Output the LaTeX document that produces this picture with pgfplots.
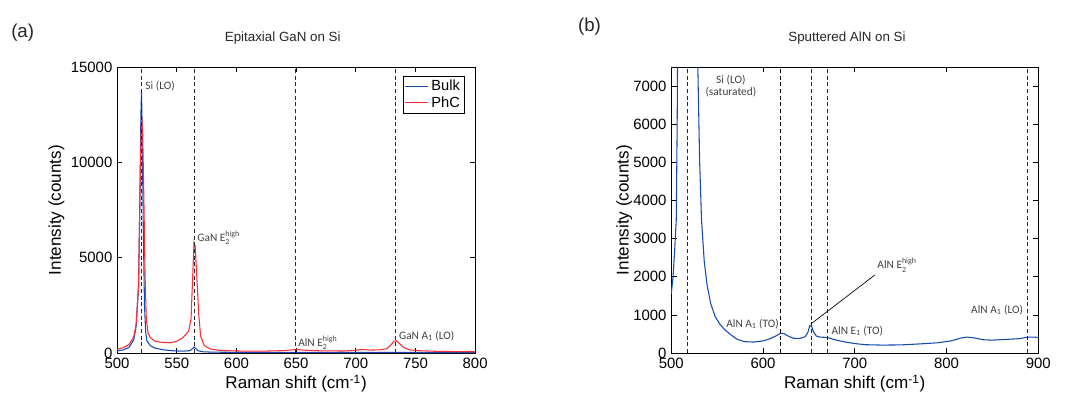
\documentclass[border=0pt]{standalone}
\usepackage{pgfplots}
\pgfplotsset{compat=1.18}
\usepackage{amsmath}
\usepackage{fontspec}
\setmainfont{Liberation Sans}
\newfontfamily\ann{Carlito}
\definecolor{bulkblue}{RGB}{20,75,175}
\definecolor{phcred}{RGB}{250,45,55}
\definecolor{vline}{RGB}{40,40,40}

\pgfplotsset{
  ramanstyle/.style={
    scale only axis,
    anchor=south west,
    height=214.5pt,
    axis line style={black, line width=0.6pt},
    tick style={black, line width=0.5pt},
    major tick length=4pt,
    minor tick num=0,
    scaled ticks=false,
    /pgf/number format/assume math mode=true,
    /pgf/number format/1000 sep={},
    tick label style={font=\fontsize{11.2}{12}\selectfont},
    label style={font=\fontsize{12.8}{14}\selectfont},
    xlabel={Raman shift (cm\textsuperscript{-1})},
    ylabel={Intensity (counts)},
    clip=true,
  },
  vl/.style={vline, densely dashed, line width=0.6pt, forget plot},
}
\tikzset{lab/.style={font=\ann\fontsize{8.5}{9.5}\selectfont, text=black!75, inner sep=1pt}}

\begin{document}
\begin{tikzpicture}
\path[use as bounding box] (0,0) rectangle (800pt,302.25pt);

% ---------- (a) ----------
\begin{axis}[ramanstyle,
  at={(87.75pt,37.5pt)},
  width=268.5pt,
  xmin=500, xmax=800, ymin=0, ymax=15000,
  xtick={500,550,...,800},
  ytick={0,5000,10000,15000},
  xlabel style={yshift=2pt},
  ylabel style={yshift=-2pt},
  legend style={at={(0.97,0.97)}, anchor=north east, font=\fontsize{11}{12}\selectfont,
    draw=black, line width=0.6pt, inner sep=1pt, row sep=-1pt},
  legend cell align=left,
]
\addplot[bulkblue, line width=0.8pt] coordinates {
(500,120) (505,160) (510,300) (514,700) (516,1400) (518,3500) (519,7500) (520,12500) (520.5,13700)
(521,12000) (522,6500) (523,2500) (524,1100) (525,650) (528,380) (532,260) (538,180) (545,130)
(555,100) (561,130) (563,220) (564.5,320) (566,230) (568,120) (572,70) (580,50) (600,40)
(650,40) (700,30) (734,40) (760,30) (800,25)
};
\addplot[phcred, line width=0.8pt] coordinates {
(500,200) (505,280) (510,450) (514,850) (516,1500) (518,3500) (519,7500) (520,11000) (520.7,12400)
(521.5,11500) (522.5,8000) (523.5,4000) (524.5,1800) (526,1050) (528,800) (532,620) (538,560)
(545,540) (550,620) (555,800) (560,1150) (562,1800) (563.5,4200) (564.5,5800) (565.5,5600)
(567,3800) (568.5,2000) (570,900) (573,400) (578,220) (585,150) (600,110) (620,100) (640,130)
(650,190) (658,150) (670,120) (690,110) (700,150) (705,190) (712,160) (720,170) (726,230)
(729,400) (732,620) (734,650) (737,480) (740,300) (745,170) (755,120) (770,90) (800,70)
};
\legend{Bulk, PhC}
\addplot[vl] coordinates {(520.6,0) (520.6,15000)};
\addplot[vl] coordinates {(564.5,0) (564.5,15000)};
\addplot[vl] coordinates {(649.5,0) (649.5,15000)};
\addplot[vl] coordinates {(733.6,0) (733.6,15000)};
\node[anchor=west, lab] at (axis cs:522.5,14000) {Si (LO)};
\node[anchor=west, lab] at (axis cs:566,6050) {GaN E$_{\text{2}}^{\text{high}}$};
\node[anchor=west, lab] at (axis cs:650.5,550) {AlN E$_{\text{2}}^{\text{high}}$};
\node[anchor=west, lab] at (axis cs:735,900) {GaN A$_{\text{1}}$ (LO)};
\end{axis}

% ---------- (b) ----------
\begin{axis}[ramanstyle,
  at={(503.25pt,37.5pt)},
  width=275.25pt,
  xmin=500, xmax=900, ymin=0, ymax=7500,
  xtick={500,600,...,900},
  ytick={0,1000,...,7000},
  xlabel style={yshift=2pt},
  ylabel style={yshift=-6pt},
]
\addplot[bulkblue, line width=0.8pt] coordinates {
(500,1550) (502,2000) (504,2800) (505.5,3500) (506.5,6000) (507,8000) (528,8000) (529,7500)
(531,5000) (533,3500) (536,2400) (539,1800) (543,1300) (548,950) (553,760) (558,620) (565,480)
(572,360) (580,300) (590,290) (600,320) (608,380) (614,450) (619,520) (623,510) (628,440)
(633,390) (640,385) (646,430) (649,550) (651,720) (653,700) (655,560) (658,450) (662,420)
(670,410) (680,340) (690,290) (700,250) (712,220) (730,210) (750,215) (770,240) (790,270)
(805,320) (815,390) (822,420) (830,400) (840,350) (850,340) (865,360) (880,380) (888,420)
(895,420) (900,410)
};
\addplot[vl] coordinates {(518,0) (518,7500)};
\addplot[vl, black] coordinates {(619,0) (619,7500)};
\addplot[vl] coordinates {(652.5,0) (652.5,7500)};
\addplot[vl] coordinates {(670.5,0) (670.5,7500)};
\addplot[vl] coordinates {(888,0) (888,7500)};
\draw[black, line width=0.5pt] (axis cs:652,760) -- (axis cs:722,2050);
\node[align=center, lab] at (axis cs:565,7000) {Si (LO)\\(saturated)};
\node[anchor=east, lab] at (axis cs:619,760) {AlN A$_{\text{1}}$ (TO)};
\node[anchor=west, lab] at (axis cs:673,580) {AlN E$_{\text{1}}$ (TO)};
\node[anchor=west, lab] at (axis cs:723,2300) {AlN E$_{\text{2}}^{\text{high}}$};
\node[anchor=east, lab] at (axis cs:885,1130) {AlN A$_{\text{1}}$ (LO)};
\end{axis}

% titles and panel letters
\node[font=\fontsize{10}{12}\selectfont, text=black!85] at (212pt,274pt) {Epitaxial GaN on Si};
\node[font=\fontsize{10}{12}\selectfont, text=black!85] at (635pt,274pt) {Sputtered AlN on Si};
\node[font=\fontsize{14}{16}\selectfont, text=black!85] at (17pt,278pt) {(a)};
\node[font=\fontsize{14}{16}\selectfont, text=black!85] at (442pt,282pt) {(b)};
\end{tikzpicture}
\end{document}
